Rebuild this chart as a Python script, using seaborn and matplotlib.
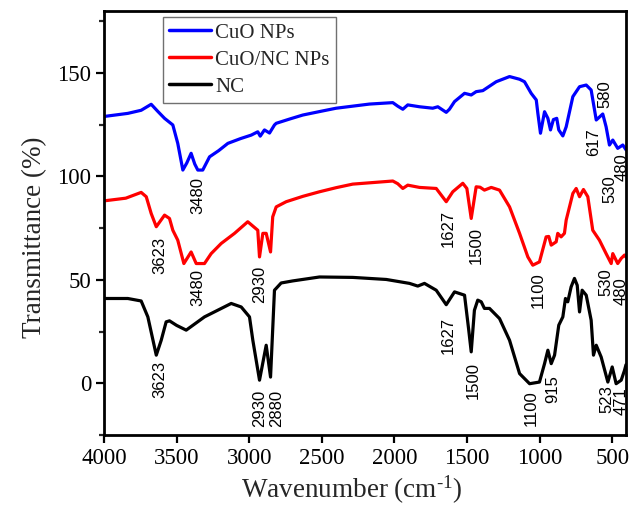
import numpy as np
import pandas as pd
import matplotlib
matplotlib.use("Agg")
import matplotlib.pyplot as plt
import seaborn as sns

# ---- FTIR spectra (wavenumber in cm^-1, transmittance in %) ----
cuo_wn = [4000, 3836, 3744, 3675, 3630, 3583, 3526, 3492, 3457, 3430, 3400, 3375, 3354,
          3320, 3273, 3210, 3147, 3060, 2986, 2941, 2924, 2895, 2860, 2826, 2814, 2720,
          2631, 2500, 2401, 2172, 2011, 1977, 1942, 1908, 1827, 1736, 1701, 1643, 1621,
          1586, 1517, 1471, 1437, 1391, 1299, 1207, 1138, 1104, 1058, 1023, 1012, 994,
          966, 943, 925, 905, 882, 868, 840, 817, 771, 725, 679, 645, 610, 565, 542,
          519, 496, 462, 427, 404]
cuo_t = [129.0, 130.5, 132.0, 134.9, 131.5, 128.1, 124.9, 116.0, 103.1, 106.5, 111.2,
         106.0, 103.1, 103.1, 109.5, 112.5, 116.0, 118.3, 120.0, 121.6, 119.5, 122.5,
         121.0, 124.9, 125.7, 127.8, 129.7, 131.6, 133.0, 135.0, 135.7, 134.0, 132.5,
         134.6, 133.7, 133.0, 133.7, 131.0, 132.5, 136.2, 140.2, 139.4, 141.0, 141.5,
         145.8, 148.3, 147.0, 145.8, 140.2, 137.0, 130.5, 120.9, 131.3, 128.1, 122.5,
         127.5, 128.1, 122.5, 119.6, 124.0, 138.6, 143.4, 144.2, 141.8, 127.3, 130.2,
         124.0, 115.2, 117.6, 113.6, 115.2, 112.8]

cuonc_wn = [4000, 3850, 3744, 3709, 3675, 3640, 3583, 3549, 3526, 3492, 3450, 3400,
            3365, 3308, 3262, 3193, 3101, 3010, 2941, 2929, 2906, 2883, 2853, 2838,
            2814, 2745, 2630, 2516, 2400, 2287, 2011, 1977, 1942, 1908, 1827, 1712,
            1643, 1598, 1529, 1501, 1471, 1437, 1410, 1380, 1333, 1276, 1207, 1138,
            1081, 1047, 1001, 955, 937, 920, 886, 875, 852, 829, 817, 771, 748, 725,
            698, 668, 634, 588, 542, 507, 496, 462, 438, 415, 405]
cuonc_t = [88.2, 89.5, 92.3, 90.2, 82.1, 75.7, 81.3, 79.7, 74.0, 69.2, 57.9, 63.5, 57.9,
           57.9, 62.7, 67.6, 72.5, 78.1, 74.0, 61.1, 72.5, 72.5, 63.5, 80.5, 85.3, 87.8,
           90.4, 92.6, 94.6, 96.3, 97.8, 96.5, 94.2, 95.8, 94.7, 94.2, 87.8, 92.6, 96.7,
           94.2, 79.7, 95.0, 94.8, 93.4, 94.7, 93.4, 85.3, 72.5, 61.1, 57.1, 58.7, 70.8,
           71.0, 66.8, 68.4, 72.5, 70.8, 72.5, 78.9, 91.8, 94.2, 90.2, 93.7, 90.2, 74.0,
           69.2, 62.7, 57.9, 62.7, 57.9, 60.4, 62.0, 61.0]

nc_wn = [4000, 3836, 3744, 3698, 3640, 3606, 3572, 3549, 3500, 3434, 3308, 3124, 3055,
         2998, 2975, 2929, 2883, 2853, 2826, 2780, 2700, 2516, 2287, 2056, 1896, 1839,
         1793, 1712, 1643, 1586, 1517, 1488, 1471, 1449, 1426, 1402, 1380, 1345, 1276,
         1207, 1138, 1069, 1001, 966, 943, 920, 897, 868, 840, 822, 806, 783, 760, 741,
         725, 707, 679, 645, 629, 610, 576, 530, 500, 473, 438, 415, 405]
nc_t = [41.0, 41.0, 39.8, 32.1, 13.6, 20.8, 29.7, 30.2, 28.0, 25.7, 32.1, 38.6, 36.9,
        32.1, 20.8, 1.5, 18.4, 3.0, 45.0, 48.5, 49.5, 51.4, 51.2, 50.2, 48.3, 47.0, 48.3,
        45.0, 38.0, 44.2, 42.6, 25.7, 15.2, 35.3, 40.2, 39.4, 36.2, 36.2, 31.3, 20.8, 4.7,
        -0.2, 0.6, 9.5, 16.0, 9.5, 13.6, 28.1, 32.1, 41.0, 39.4, 46.6, 50.7, 47.4, 34.5,
        45.0, 42.6, 30.5, 13.6, 18.4, 12.7, 0.6, 7.9, -0.2, 1.5, 6.3, 9.0]

samples = ["CuO NPs", "CuO/NC NPs", "NC"]
colors = ["#0000ff", "#ff0000", "#000000"]

# Peak assignments: (label, x, y of label top)
peak_labels = {
    "CuO NPs": [("3480", 3356, 99.7), ("617", 629, 123.4), ("580", 553, 146.7),
                ("530", 519, 100.7), ("480", 431, 111.3)],
    "CuO/NC NPs": [("3623", 3618, 70.7), ("3480", 3354, 55.5), ("2930", 2929, 56.6),
                   ("1627", 1632, 83.7), ("1500", 1437, 75.5), ("1100", 1012, 53.9),
                   ("530", 545, 55.5), ("480", 436, 51.5)],
    "NC": [("3623", 3618, 10.8), ("2930", 2929, -3.0), ("2880", 2814, -3.0),
           ("1627", 1632, 32.1), ("1500", 1460, 10.3), ("1100", 1058, -3.4),
           ("915", 909, 3.9), ("523", 536, -1.0), ("471", 442, -1.8)],
}

frames = []
for name, wn, t in [("CuO NPs", cuo_wn, cuo_t), ("CuO/NC NPs", cuonc_wn, cuonc_t),
                    ("NC", nc_wn, nc_t)]:
    frames.append(pd.DataFrame({"wavenumber": wn, "transmittance": t, "sample": name}))
df = pd.concat(frames, ignore_index=True)

sns.set_style("ticks")
plt.rcParams["font.family"] = ["Liberation Serif", "DejaVu Serif"]
plt.rcParams["mathtext.fontset"] = "custom"
plt.rcParams["mathtext.rm"] = "Liberation Serif"
plt.rcParams["mathtext.it"] = "Liberation Serif:italic"

fig = plt.figure(figsize=(6.29, 5.13), dpi=100)
ax = fig.add_axes([104 / 629, 1 - 435 / 513, 522 / 629, 424 / 513])

sns.lineplot(data=df, x="wavenumber", y="transmittance", hue="sample",
             hue_order=samples, palette=colors, estimator=None, sort=False,
             linewidth=2.3, ax=ax)

for name in samples:
    for txt, x, y in peak_labels[name]:
        ax.text(x, y, txt, rotation=90, ha="center", va="top", fontsize=12,
                family=["Liberation Sans Narrow", "Liberation Sans"], color="black")

ax.set_xlim(4000, 405)
ax.set_ylim(-25, 180)
ax.set_xticks([4000, 3500, 3000, 2500, 2000, 1500, 1000, 500])
ax.set_yticks([0, 50, 100, 150])
ax.set_yticks([-25, 25, 75, 125, 175], minor=True)
ax.tick_params(axis="both", which="major", direction="out", length=6, width=1.6,
               labelsize=16.5, pad=3, colors="black")
ax.tick_params(axis="y", which="minor", direction="out", length=3.5, width=1.6)
for s in ax.spines.values():
    s.set_linewidth(2.0)
    s.set_color("black")
    s.set_visible(True)

ax.set_xlabel(r"Wavenumber (cm$^{\text{-}1}$)", fontsize=19.5)
ax.set_ylabel("Transmittance (%)", fontsize=19.5)
ax.xaxis.set_label_coords(0.475, -0.13)
ax.yaxis.set_label_coords(-0.132, 0.467)
ax.xaxis.label.set_va("center")
ax.yaxis.label.set_va("center")

leg = ax.legend(loc="upper left", bbox_to_anchor=(0.113, 0.986), fontsize=15,
                frameon=True, fancybox=False, edgecolor="#707070", framealpha=1,
                handlelength=2.0, handletextpad=0.2, labelspacing=0.35,
                borderpad=0.3, borderaxespad=0)
leg.get_frame().set_linewidth(1.0)
for line in leg.get_lines():
    line.set_linewidth(2.5)

fig.savefig("out.png", dpi=100)
